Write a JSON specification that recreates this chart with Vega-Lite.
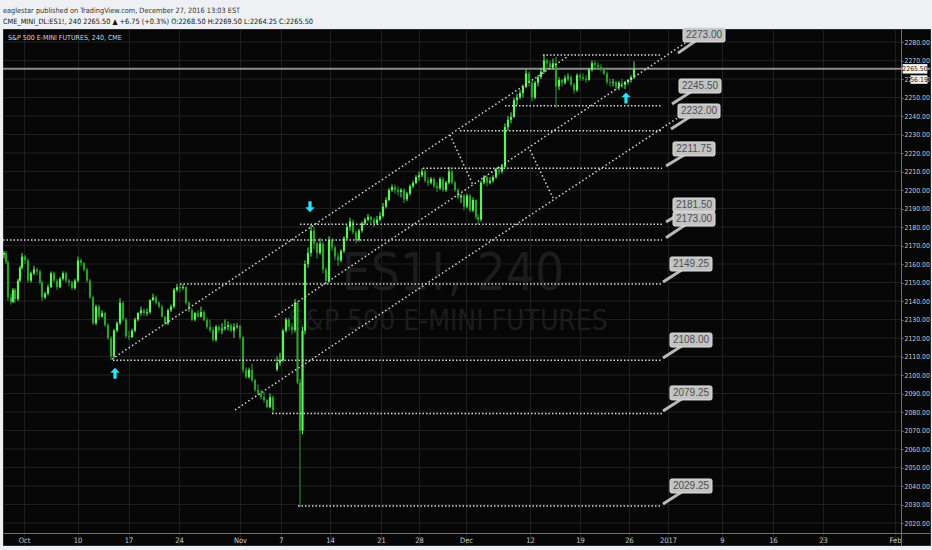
{
  "$schema": "https://vega.github.io/schema/vega-lite/v6.json",
  "width": 927,
  "height": 516,
  "autosize": "none",
  "padding": {"left": 3, "top": 29, "right": 2, "bottom": 5},
  "background": "#eef0f3",
  "config": {
    "view": {"fill": "#060606", "stroke": "#2a2a2a"},
    "axis": {"labelFont": "Liberation Sans Narrow, Arial Narrow, DejaVu Sans Condensed, Liberation Sans, sans-serif", "labelColor": "#c9c9c9", "gridColor": "#1e1e1e", "gridWidth": 1, "domainColor": "#707070", "tickColor": "#707070", "title": null, "labelOverlap": false},
    "text": {"font": "Liberation Sans Narrow, Arial Narrow, DejaVu Sans Condensed, Liberation Sans, sans-serif"}
  },
  "title": {
    "text": "eaglestar published on TradingView.com, December 27, 2016 13:03 EST",
    "subtitle": "CME_MINI_DL:ES1!, 240 2265.50 ▲ +6.75 (+0.3%) O:2268.50 H:2269.50 L:2264.25 C:2265.50",
    "anchor": "start",
    "frame": "group",
    "offset": 1,
    "font": "Liberation Sans Narrow, Arial Narrow, DejaVu Sans Condensed, Liberation Sans, sans-serif",
    "fontSize": 7.3,
    "fontWeight": "normal",
    "color": "#333333",
    "subtitleFont": "Liberation Sans Narrow, Arial Narrow, DejaVu Sans Condensed, Liberation Sans, sans-serif",
    "subtitleFontSize": 7.3,
    "subtitleFontWeight": "normal",
    "subtitleColor": "#111111",
    "subtitlePadding": 3
  },
  "datasets": {
    "candles": [
      {"d":-2.0,"o":2165,"h":2167,"l":2163,"c":2166},
      {"d":-1.8,"o":2166,"h":2167,"l":2160,"c":2161},
      {"d":-1.6,"o":2161,"h":2162,"l":2140,"c":2142},
      {"d":-1.3,"o":2142,"h":2144,"l":2138,"c":2139.5},
      {"d":-1.1,"o":2139.5,"h":2147,"l":2139,"c":2146},
      {"d":-0.9,"o":2146,"h":2147,"l":2139,"c":2141},
      {"d":-0.6,"o":2141,"h":2152,"l":2140,"c":2151},
      {"d":-0.4,"o":2151,"h":2159,"l":2150,"c":2158},
      {"d":-0.2,"o":2158,"h":2166,"l":2157,"c":2164},
      {"d":0.1,"o":2164,"h":2165,"l":2160,"c":2162},
      {"d":0.4,"o":2162,"h":2163,"l":2150,"c":2151},
      {"d":0.7,"o":2151,"h":2156,"l":2150,"c":2155},
      {"d":1.0,"o":2155,"h":2159,"l":2154,"c":2157},
      {"d":1.3,"o":2157,"h":2158,"l":2154,"c":2156},
      {"d":1.6,"o":2156,"h":2157,"l":2149,"c":2150},
      {"d":1.8,"o":2150,"h":2151,"l":2140,"c":2142},
      {"d":2.1,"o":2142,"h":2145,"l":2141,"c":2144},
      {"d":2.4,"o":2144,"h":2149,"l":2143,"c":2147.5},
      {"d":2.7,"o":2147.5,"h":2156,"l":2147,"c":2155},
      {"d":3.0,"o":2155,"h":2156,"l":2150,"c":2151},
      {"d":3.3,"o":2151,"h":2152,"l":2146,"c":2147.5},
      {"d":3.6,"o":2147.5,"h":2153,"l":2147,"c":2152},
      {"d":3.9,"o":2152,"h":2156,"l":2151,"c":2155},
      {"d":4.2,"o":2155,"h":2156,"l":2150,"c":2151},
      {"d":4.5,"o":2151,"h":2152,"l":2148,"c":2150},
      {"d":4.8,"o":2150,"h":2151,"l":2146,"c":2147},
      {"d":5.1,"o":2147,"h":2152,"l":2146,"c":2151},
      {"d":5.4,"o":2151,"h":2164,"l":2150,"c":2162},
      {"d":5.7,"o":2162,"h":2163,"l":2159,"c":2160.5},
      {"d":6.0,"o":2160.5,"h":2161,"l":2156,"c":2157},
      {"d":6.3,"o":2157,"h":2158,"l":2150,"c":2151},
      {"d":6.6,"o":2151,"h":2152,"l":2141,"c":2142},
      {"d":6.9,"o":2142,"h":2143,"l":2127,"c":2128},
      {"d":7.2,"o":2128,"h":2138,"l":2127,"c":2137},
      {"d":7.5,"o":2137,"h":2138,"l":2130,"c":2131.5},
      {"d":7.8,"o":2131.5,"h":2135,"l":2131,"c":2133.5},
      {"d":8.1,"o":2133.5,"h":2134,"l":2126,"c":2127},
      {"d":8.4,"o":2127,"h":2128,"l":2119,"c":2120},
      {"d":8.7,"o":2120,"h":2121,"l":2108,"c":2110},
      {"d":9.0,"o":2110,"h":2125,"l":2109,"c":2124},
      {"d":9.3,"o":2124,"h":2129,"l":2123,"c":2128},
      {"d":9.6,"o":2128,"h":2141.5,"l":2127,"c":2139},
      {"d":9.9,"o":2139,"h":2140,"l":2129,"c":2130},
      {"d":10.2,"o":2130,"h":2131,"l":2120,"c":2121},
      {"d":10.5,"o":2121,"h":2124,"l":2119,"c":2120.5},
      {"d":10.8,"o":2120.5,"h":2125,"l":2120,"c":2124},
      {"d":11.1,"o":2124,"h":2131,"l":2123,"c":2130},
      {"d":11.4,"o":2130,"h":2134,"l":2129,"c":2133.5},
      {"d":11.7,"o":2133.5,"h":2137,"l":2132,"c":2135},
      {"d":12.0,"o":2135,"h":2136,"l":2132,"c":2133.5},
      {"d":12.3,"o":2133.5,"h":2136,"l":2132,"c":2134},
      {"d":12.6,"o":2134,"h":2141,"l":2133,"c":2140.5},
      {"d":12.9,"o":2140.5,"h":2144,"l":2140,"c":2142},
      {"d":13.2,"o":2142,"h":2143,"l":2138,"c":2139},
      {"d":13.5,"o":2139,"h":2140,"l":2136,"c":2137},
      {"d":13.8,"o":2137,"h":2138,"l":2131,"c":2131.5},
      {"d":14.1,"o":2131.5,"h":2132,"l":2127,"c":2128},
      {"d":14.4,"o":2128,"h":2136,"l":2127,"c":2135},
      {"d":14.7,"o":2135,"h":2138,"l":2134,"c":2137},
      {"d":15.0,"o":2137,"h":2147,"l":2136,"c":2146},
      {"d":15.3,"o":2146,"h":2149.25,"l":2145,"c":2147.5},
      {"d":15.6,"o":2147.5,"h":2149,"l":2145,"c":2147},
      {"d":15.9,"o":2147,"h":2149,"l":2146,"c":2147.5},
      {"d":16.2,"o":2147.5,"h":2148,"l":2138,"c":2139},
      {"d":16.5,"o":2139,"h":2140,"l":2134,"c":2135},
      {"d":16.8,"o":2135,"h":2136,"l":2129,"c":2130},
      {"d":17.1,"o":2130,"h":2134,"l":2129,"c":2133.5},
      {"d":17.4,"o":2133.5,"h":2135,"l":2131,"c":2131.5},
      {"d":17.7,"o":2131.5,"h":2137,"l":2131,"c":2134},
      {"d":18.0,"o":2134,"h":2135,"l":2129,"c":2129.7},
      {"d":18.3,"o":2129.7,"h":2131,"l":2125,"c":2126},
      {"d":18.6,"o":2126,"h":2130,"l":2123,"c":2124.3},
      {"d":18.9,"o":2124.3,"h":2126,"l":2118,"c":2119},
      {"d":19.2,"o":2119,"h":2127,"l":2118,"c":2126},
      {"d":19.5,"o":2126,"h":2127,"l":2123,"c":2124.3},
      {"d":19.8,"o":2124.3,"h":2128,"l":2122,"c":2125},
      {"d":20.1,"o":2125,"h":2130,"l":2124,"c":2126},
      {"d":20.4,"o":2126,"h":2129,"l":2124,"c":2127},
      {"d":20.7,"o":2127,"h":2128,"l":2123,"c":2124},
      {"d":21.0,"o":2124,"h":2128,"l":2120,"c":2126},
      {"d":21.3,"o":2126,"h":2128,"l":2125,"c":2126.5},
      {"d":21.6,"o":2126.5,"h":2127,"l":2119,"c":2120.5},
      {"d":21.9,"o":2120.5,"h":2121,"l":2101,"c":2102.7},
      {"d":22.2,"o":2102.7,"h":2104,"l":2098,"c":2099},
      {"d":22.5,"o":2099,"h":2104,"l":2098,"c":2102.7},
      {"d":22.8,"o":2102.7,"h":2106,"l":2096,"c":2097.3},
      {"d":23.1,"o":2097.3,"h":2098,"l":2091,"c":2092},
      {"d":23.4,"o":2092,"h":2095,"l":2089,"c":2090.3},
      {"d":23.7,"o":2090.3,"h":2092,"l":2087,"c":2088.1},
      {"d":24.0,"o":2088.1,"h":2091,"l":2085,"c":2086.5},
      {"d":24.3,"o":2086.5,"h":2087,"l":2082,"c":2082.7},
      {"d":24.6,"o":2082.7,"h":2090,"l":2082,"c":2088},
      {"d":24.9,"o":2088,"h":2089,"l":2079.25,"c":2081},
      {"d":25.3,"o":2103,"h":2110,"l":2102,"c":2106.5},
      {"d":25.6,"o":2106.5,"h":2112,"l":2105,"c":2108},
      {"d":25.9,"o":2108,"h":2125,"l":2107,"c":2124},
      {"d":26.2,"o":2124,"h":2131,"l":2123,"c":2130},
      {"d":26.5,"o":2130,"h":2131,"l":2124,"c":2126},
      {"d":26.8,"o":2126,"h":2128,"l":2122,"c":2124.3},
      {"d":27.1,"o":2124.3,"h":2141,"l":2123,"c":2139},
      {"d":27.35,"o":2139,"h":2140,"l":2095,"c":2096},
      {"d":27.6,"o":2096,"h":2098,"l":2028.5,"c":2070},
      {"d":27.85,"o":2070,"h":2126,"l":2068,"c":2124},
      {"d":28.1,"o":2124,"h":2162,"l":2122,"c":2160},
      {"d":28.4,"o":2160,"h":2169,"l":2158,"c":2166},
      {"d":28.7,"o":2166,"h":2181.5,"l":2164,"c":2178},
      {"d":29.0,"o":2178,"h":2180,"l":2168,"c":2171},
      {"d":29.3,"o":2171,"h":2172,"l":2163,"c":2166},
      {"d":29.6,"o":2166,"h":2174,"l":2165,"c":2171},
      {"d":29.9,"o":2171,"h":2172,"l":2155,"c":2157},
      {"d":30.2,"o":2157,"h":2158,"l":2149,"c":2151},
      {"d":30.5,"o":2151,"h":2175,"l":2150,"c":2173},
      {"d":30.8,"o":2173,"h":2174,"l":2167,"c":2169},
      {"d":31.1,"o":2169,"h":2170,"l":2162,"c":2164},
      {"d":31.4,"o":2164,"h":2166,"l":2159,"c":2162},
      {"d":31.7,"o":2162,"h":2168,"l":2161,"c":2167},
      {"d":32.0,"o":2167,"h":2175,"l":2166,"c":2174},
      {"d":32.3,"o":2174,"h":2181,"l":2173,"c":2180},
      {"d":32.6,"o":2180,"h":2185,"l":2178,"c":2183},
      {"d":32.9,"o":2183,"h":2184,"l":2176,"c":2177},
      {"d":33.2,"o":2177,"h":2178,"l":2171,"c":2173},
      {"d":33.5,"o":2173,"h":2179,"l":2172,"c":2178},
      {"d":33.8,"o":2178,"h":2183,"l":2177,"c":2182},
      {"d":34.1,"o":2182,"h":2185,"l":2181,"c":2184},
      {"d":34.4,"o":2184,"h":2187,"l":2183,"c":2185.5},
      {"d":34.7,"o":2185.5,"h":2186,"l":2182,"c":2184},
      {"d":35.0,"o":2184,"h":2185,"l":2180,"c":2182},
      {"d":35.3,"o":2182,"h":2186,"l":2181,"c":2184},
      {"d":35.6,"o":2184,"h":2188,"l":2183,"c":2186},
      {"d":35.9,"o":2186,"h":2193,"l":2185,"c":2191},
      {"d":36.2,"o":2191,"h":2196,"l":2190,"c":2194.6},
      {"d":36.5,"o":2194.6,"h":2201,"l":2194,"c":2200},
      {"d":36.8,"o":2200,"h":2203,"l":2199,"c":2201.6},
      {"d":37.1,"o":2201.6,"h":2203,"l":2198,"c":2200},
      {"d":37.4,"o":2200,"h":2202,"l":2197,"c":2199},
      {"d":37.7,"o":2199,"h":2201,"l":2196,"c":2200},
      {"d":38.0,"o":2200,"h":2201,"l":2193,"c":2195},
      {"d":38.3,"o":2195,"h":2199,"l":2194,"c":2198},
      {"d":38.6,"o":2198,"h":2203,"l":2197,"c":2202},
      {"d":38.9,"o":2202,"h":2205,"l":2201,"c":2203.8},
      {"d":39.2,"o":2203.8,"h":2208,"l":2203,"c":2207},
      {"d":39.5,"o":2207,"h":2210,"l":2205,"c":2208},
      {"d":39.8,"o":2208,"h":2211.75,"l":2207,"c":2210},
      {"d":40.1,"o":2210,"h":2211,"l":2204,"c":2205},
      {"d":40.4,"o":2205,"h":2207,"l":2202,"c":2204},
      {"d":40.7,"o":2204,"h":2207,"l":2203,"c":2206},
      {"d":41.0,"o":2206,"h":2207,"l":2201,"c":2202},
      {"d":41.3,"o":2202,"h":2204,"l":2199,"c":2201},
      {"d":41.6,"o":2201,"h":2207,"l":2200,"c":2206},
      {"d":41.9,"o":2206,"h":2207,"l":2199,"c":2200},
      {"d":42.2,"o":2200,"h":2205,"l":2199,"c":2204},
      {"d":42.5,"o":2204,"h":2212.5,"l":2203,"c":2210},
      {"d":42.8,"o":2210,"h":2211,"l":2203,"c":2204},
      {"d":43.1,"o":2204,"h":2205,"l":2199,"c":2200},
      {"d":43.4,"o":2200,"h":2201,"l":2195,"c":2196},
      {"d":43.7,"o":2196,"h":2198,"l":2193,"c":2197},
      {"d":44.0,"o":2197,"h":2198,"l":2189,"c":2191},
      {"d":44.3,"o":2191,"h":2198,"l":2190,"c":2197},
      {"d":44.6,"o":2197,"h":2198,"l":2188,"c":2189},
      {"d":44.9,"o":2189,"h":2196,"l":2188,"c":2194.6},
      {"d":45.2,"o":2194.6,"h":2195,"l":2184,"c":2185.4},
      {"d":45.4,"o":2185.4,"h":2187,"l":2181.5,"c":2184},
      {"d":45.7,"o":2184,"h":2205,"l":2183,"c":2204},
      {"d":46.0,"o":2204,"h":2208,"l":2203,"c":2207},
      {"d":46.3,"o":2207,"h":2208,"l":2202,"c":2204},
      {"d":46.6,"o":2204,"h":2207,"l":2203,"c":2205},
      {"d":46.9,"o":2205,"h":2208,"l":2204,"c":2207},
      {"d":47.2,"o":2207,"h":2212,"l":2206,"c":2211},
      {"d":47.5,"o":2211,"h":2213,"l":2208,"c":2210},
      {"d":47.8,"o":2210,"h":2214,"l":2209,"c":2212.5},
      {"d":48.1,"o":2212.5,"h":2236,"l":2212,"c":2234},
      {"d":48.4,"o":2234,"h":2240,"l":2232,"c":2238},
      {"d":48.7,"o":2238,"h":2242,"l":2236,"c":2239.5},
      {"d":49.0,"o":2239.5,"h":2250,"l":2239,"c":2248.6},
      {"d":49.3,"o":2248.6,"h":2252,"l":2246,"c":2250},
      {"d":49.6,"o":2250,"h":2254,"l":2249,"c":2252.4},
      {"d":49.9,"o":2252.4,"h":2257,"l":2250,"c":2255.7},
      {"d":50.2,"o":2255.7,"h":2265,"l":2255,"c":2263},
      {"d":50.5,"o":2263,"h":2264,"l":2256,"c":2258},
      {"d":50.8,"o":2258,"h":2259,"l":2248,"c":2250},
      {"d":51.1,"o":2250,"h":2259,"l":2249,"c":2258},
      {"d":51.4,"o":2258,"h":2262,"l":2256,"c":2261},
      {"d":51.7,"o":2261,"h":2266,"l":2260,"c":2264},
      {"d":52.0,"o":2264,"h":2273,"l":2263,"c":2270},
      {"d":52.3,"o":2270,"h":2271,"l":2266,"c":2268.5},
      {"d":52.6,"o":2268.5,"h":2270,"l":2265,"c":2266.5},
      {"d":52.9,"o":2266.5,"h":2271,"l":2265,"c":2268.5},
      {"d":53.2,"o":2268.5,"h":2272,"l":2244.5,"c":2256},
      {"d":53.5,"o":2256,"h":2261,"l":2254,"c":2259.5},
      {"d":53.8,"o":2259.5,"h":2260,"l":2256,"c":2258},
      {"d":54.1,"o":2258,"h":2262,"l":2257,"c":2260.5},
      {"d":54.4,"o":2260.5,"h":2263,"l":2259,"c":2261},
      {"d":54.7,"o":2261,"h":2262,"l":2256,"c":2257},
      {"d":55.0,"o":2257,"h":2258,"l":2252,"c":2254},
      {"d":55.3,"o":2254,"h":2263,"l":2253,"c":2262},
      {"d":55.6,"o":2262,"h":2263,"l":2259,"c":2261},
      {"d":55.9,"o":2261,"h":2263,"l":2259,"c":2260},
      {"d":56.2,"o":2260,"h":2262,"l":2258,"c":2259.5},
      {"d":56.5,"o":2259.5,"h":2266,"l":2259,"c":2265},
      {"d":56.8,"o":2265,"h":2270,"l":2264,"c":2268.6},
      {"d":57.1,"o":2268.6,"h":2270,"l":2266,"c":2267.6},
      {"d":57.4,"o":2267.6,"h":2269,"l":2265,"c":2266.5},
      {"d":57.7,"o":2266.5,"h":2268,"l":2264,"c":2265},
      {"d":58.0,"o":2265,"h":2266,"l":2262,"c":2263},
      {"d":58.3,"o":2263,"h":2264,"l":2257,"c":2258.4},
      {"d":58.6,"o":2258.4,"h":2260,"l":2256,"c":2258},
      {"d":58.9,"o":2258,"h":2260,"l":2256,"c":2258.4},
      {"d":59.2,"o":2258.4,"h":2259,"l":2254,"c":2255.7},
      {"d":59.5,"o":2255.7,"h":2259,"l":2254,"c":2258},
      {"d":59.8,"o":2258,"h":2260,"l":2255,"c":2257},
      {"d":60.1,"o":2257,"h":2259,"l":2254.5,"c":2258.4},
      {"d":60.4,"o":2258.4,"h":2260,"l":2257,"c":2259.5},
      {"d":60.7,"o":2259.5,"h":2262,"l":2258,"c":2261},
      {"d":61.0,"o":2261,"h":2269.5,"l":2260,"c":2265.5}
    ],
    "levels": [
      {"v":2273.00,"d1":51.9,"d2":63.8,"ld":68.0,"lp":2283.8,"td":65.4,"tp":2274.0},
      {"v":2245.50,"d1":48.1,"d2":63.8,"ld":67.6,"lp":2256.2,"td":64.8,"tp":2246.5},
      {"v":2232.00,"d1":43.6,"d2":63.8,"ld":67.5,"lp":2242.7,"td":64.7,"tp":2233.0},
      {"v":2211.75,"d1":39.9,"d2":63.8,"ld":67.0,"lp":2222.2,"td":64.2,"tp":2213.0},
      {"v":2181.50,"d1":27.6,"d2":63.8,"ld":67.0,"lp":2191.9,"td":64.2,"tp":2182.7},
      {"v":2173.00,"d1":-2.1,"d2":63.8,"ld":67.0,"lp":2184.3,"td":64.2,"tp":2174.2},
      {"v":2149.25,"d1":15.6,"d2":63.8,"ld":66.7,"lp":2160.0,"td":63.9,"tp":2150.3},
      {"v":2108.00,"d1":8.9,"d2":63.8,"ld":66.7,"lp":2118.9,"td":63.9,"tp":2109.2},
      {"v":2079.25,"d1":24.8,"d2":63.8,"ld":66.7,"lp":2090.3,"td":63.9,"tp":2080.5},
      {"v":2029.25,"d1":27.4,"d2":63.8,"ld":66.7,"lp":2040.0,"td":63.9,"tp":2030.3}
    ],
    "channels": [
      {"d1":8.8,"p1":2108.6,"d2":54.3,"p2":2271.9},
      {"d1":25.1,"p1":2131.4,"d2":66.4,"p2":2280.5},
      {"d1":21.1,"p1":2081.1,"d2":66.1,"p2":2241.6},
      {"d1":42.6,"p1":2229.7,"d2":44.9,"p2":2202.7},
      {"d1":50.6,"p1":2221.6,"d2":52.9,"p2":2195.7}
    ],
    "arrows": [
      {"d":9.1,"p":2100.9,"dir":"up"},
      {"d":28.6,"p":2191.0,"dir":"down"},
      {"d":60.2,"p":2249.8,"dir":"up"}
    ],
    "grid": [
      {"p":2020},{"p":2030},{"p":2040},{"p":2050},{"p":2060},{"p":2070},{"p":2080},{"p":2090},{"p":2100},
      {"p":2110},{"p":2120},{"p":2130},{"p":2140},{"p":2150},{"p":2160},{"p":2170},{"p":2180},{"p":2190},
      {"p":2200},{"p":2210},{"p":2220},{"p":2230},{"p":2240},{"p":2250},{"p":2260},{"p":2270},{"p":2280}
    ]
  },
  "layer": [
    {
      "data": {"name": "grid"},
      "mark": {"type": "rule", "color": "#1e1e1e", "strokeWidth": 1},
      "encoding": {
        "x": {"datum": -2.1, "type": "quantitative", "scale": {"domain": [-2.1, 90.6], "nice": false, "zero": false},
          "axis": {"orient": "bottom", "offset": -12, "values": [0, 5.35, 10.45, 15.5, 21.6, 25.7, 30.6, 35.7, 39.5, 44.2, 50.6, 55.6, 60.5, 64.4, 69.8, 74.9, 79.9, 87.1], "labelExpr": "datum.value < 1 ? 'Oct' : datum.value < 6 ? '10' : datum.value < 11 ? '17' : datum.value < 16 ? '24' : datum.value < 22 ? 'Nov' : datum.value < 26 ? '7' : datum.value < 31 ? '14' : datum.value < 36 ? '21' : datum.value < 40 ? '28' : datum.value < 45 ? 'Dec' : datum.value < 51 ? '12' : datum.value < 56 ? '19' : datum.value < 61 ? '26' : datum.value < 65 ? '2017' : datum.value < 70 ? '9' : datum.value < 75 ? '16' : datum.value < 80 ? '23' : 'Feb'", "grid": true, "tickSize": 0, "labelPadding": 3, "labelFontSize": 7.5, "labelFlush": false, "labelBound": false, "title": null}},
        "x2": {"datum": 87.7},
        "y": {"field": "p", "type": "quantitative", "scale": {"domain": [2008.11, 2287.03], "nice": false, "zero": false},
          "axis": {"orient": "right", "offset": -29, "values": [2020, 2030, 2040, 2050, 2060, 2070, 2080, 2090, 2100, 2110, 2120, 2130, 2140, 2150, 2160, 2170, 2180, 2190, 2200, 2210, 2220, 2230, 2240, 2250, 2260, 2270, 2280], "tickCount": 27, "format": ".2f", "grid": false, "tickSize": 2, "labelPadding": 1, "labelFontSize": 6.8, "labelBound": false, "title": null}}
      }
    },
    {
      "data": {"values": [{}]},
      "mark": {"type": "text", "fontSize": 51, "color": "#1c1c1c", "align": "center", "baseline": "alphabetic"},
      "encoding": {
        "x": {"datum": 42.9, "type": "quantitative"},
        "y": {"datum": 2146, "type": "quantitative"},
        "text": {"value": "ES1!, 240"}
      }
    },
    {
      "data": {"values": [{}]},
      "mark": {"type": "text", "fontSize": 28, "color": "#1c1c1c", "align": "center", "baseline": "alphabetic"},
      "encoding": {
        "x": {"datum": 42.4, "type": "quantitative"},
        "y": {"datum": 2124.3, "type": "quantitative"},
        "text": {"value": "S&P 500 E-MINI FUTURES"}
      }
    },
    {
      "data": {"values": [{"p": 2265.5}]},
      "mark": {"type": "rule", "color": "#8c8c8c", "strokeWidth": 2},
      "encoding": {"y": {"field": "p", "type": "quantitative"}}
    },
    {
      "data": {"name": "candles"},
      "mark": {"type": "rule", "strokeWidth": 1},
      "encoding": {
        "x": {"field": "d", "type": "quantitative"},
        "y": {"field": "l", "type": "quantitative"},
        "y2": {"field": "h"},
        "color": {"condition": {"test": "datum.c >= datum.o", "value": "#5ef05e"}, "value": "#2e9e2e"}
      }
    },
    {
      "data": {"name": "candles"},
      "mark": {"type": "rule", "strokeWidth": 2.2},
      "encoding": {
        "x": {"field": "d", "type": "quantitative"},
        "y": {"field": "o", "type": "quantitative"},
        "y2": {"field": "c"},
        "color": {"condition": {"test": "datum.c >= datum.o", "value": "#5ef05e"}, "value": "#2e9e2e"}
      }
    },
    {
      "data": {"name": "levels"},
      "mark": {"type": "rule", "color": "#d6d6d6", "strokeWidth": 1.5, "strokeDash": [1.5, 2]},
      "encoding": {
        "x": {"field": "d1", "type": "quantitative"},
        "x2": {"field": "d2"},
        "y": {"field": "v", "type": "quantitative"}
      }
    },
    {
      "data": {"name": "channels"},
      "mark": {"type": "rule", "color": "#d6d6d6", "strokeWidth": 1.5, "strokeDash": [1.5, 2.5]},
      "encoding": {
        "x": {"field": "d1", "type": "quantitative"},
        "x2": {"field": "d2"},
        "y": {"field": "p1", "type": "quantitative"},
        "y2": {"field": "p2"}
      }
    },
    {
      "data": {"name": "arrows"},
      "mark": {"type": "point", "filled": true, "size": 121, "color": "#22e4f2", "opacity": 1},
      "encoding": {
        "x": {"field": "d", "type": "quantitative"},
        "y": {"field": "p", "type": "quantitative"},
        "shape": {"field": "dir", "type": "nominal", "scale": {"domain": ["up", "down"], "range": ["M0,-1L0.85,-0.1L0.3,-0.1L0.3,1L-0.3,1L-0.3,-0.1L-0.85,-0.1Z", "M0,1L0.85,0.1L0.3,0.1L0.3,-1L-0.3,-1L-0.3,0.1L-0.85,0.1Z"]}, "legend": null}
      }
    },
    {
      "data": {"name": "levels"},
      "mark": {"type": "rule", "color": "#b9b9b9", "strokeWidth": 3},
      "encoding": {
        "x": {"field": "td", "type": "quantitative"},
        "x2": {"field": "ld"},
        "y": {"field": "tp", "type": "quantitative"},
        "y2": {"field": "lp"}
      }
    },
    {
      "data": {"name": "levels"},
      "mark": {"type": "point", "filled": true, "size": 784, "shape": "M-1.38,-0.5L1.38,-0.5Q1.5,-0.5,1.5,-0.38L1.5,0.38Q1.5,0.5,1.38,0.5L-1.38,0.5Q-1.5,0.5,-1.5,0.38L-1.5,-0.38Q-1.5,-0.5,-1.38,-0.5Z", "fill": "#c3c3c3", "stroke": "#dedede", "strokeWidth": 1, "opacity": 1},
      "encoding": {
        "x": {"field": "ld", "type": "quantitative"},
        "y": {"field": "lp", "type": "quantitative"}
      }
    },
    {
      "data": {"name": "levels"},
      "mark": {"type": "text", "fontSize": 10, "color": "#4f4f4f", "align": "center", "baseline": "middle", "font": "Liberation Sans, Arial, sans-serif"},
      "encoding": {
        "x": {"field": "ld", "type": "quantitative"},
        "y": {"field": "lp", "type": "quantitative"},
        "text": {"field": "v", "type": "quantitative", "format": ".2f"}
      }
    },
    {
      "data": {"values": [{}]},
      "mark": {"type": "text", "fontSize": 7, "color": "#d8d8d8", "align": "left", "baseline": "middle"},
      "encoding": {
        "x": {"datum": -1.6, "type": "quantitative"},
        "y": {"datum": 2282.2, "type": "quantitative"},
        "text": {"value": "S&P 500 E-MINI FUTURES, 240, CME"}
      }
    },
    {
      "data": {"values": [{}]},
      "mark": {"type": "point", "filled": true, "size": 361, "shape": "M-1.3,-0.5L1.3,-0.5L1.3,0.5L-1.3,0.5Z", "fill": "#f4f4f4", "opacity": 1, "strokeWidth": 0},
      "encoding": {
        "x": {"datum": 89.1, "type": "quantitative"},
        "y": {"datum": 2265.5, "type": "quantitative"}
      }
    },
    {
      "data": {"values": [{}]},
      "mark": {"type": "text", "fontSize": 6.8, "color": "#111111", "align": "center", "baseline": "middle"},
      "encoding": {
        "x": {"datum": 89.1, "type": "quantitative"},
        "y": {"datum": 2265.5, "type": "quantitative"},
        "text": {"value": "2265.50"}
      }
    },
    {
      "data": {"values": [{}]},
      "mark": {"type": "point", "filled": true, "size": 289, "shape": "M-1,-0.5L1,-0.5L1,0.5L-1,0.5Z", "fill": "#f4f4f4", "opacity": 1, "strokeWidth": 0},
      "encoding": {
        "x": {"datum": 89.5, "type": "quantitative"},
        "y": {"datum": 2259.7, "type": "quantitative"}
      }
    },
    {
      "data": {"values": [{}]},
      "mark": {"type": "text", "fontSize": 6.8, "color": "#111111", "align": "center", "baseline": "middle"},
      "encoding": {
        "x": {"datum": 89.5, "type": "quantitative"},
        "y": {"datum": 2259.7, "type": "quantitative"},
        "text": {"value": "56:19"}
      }
    }
  ]
}
